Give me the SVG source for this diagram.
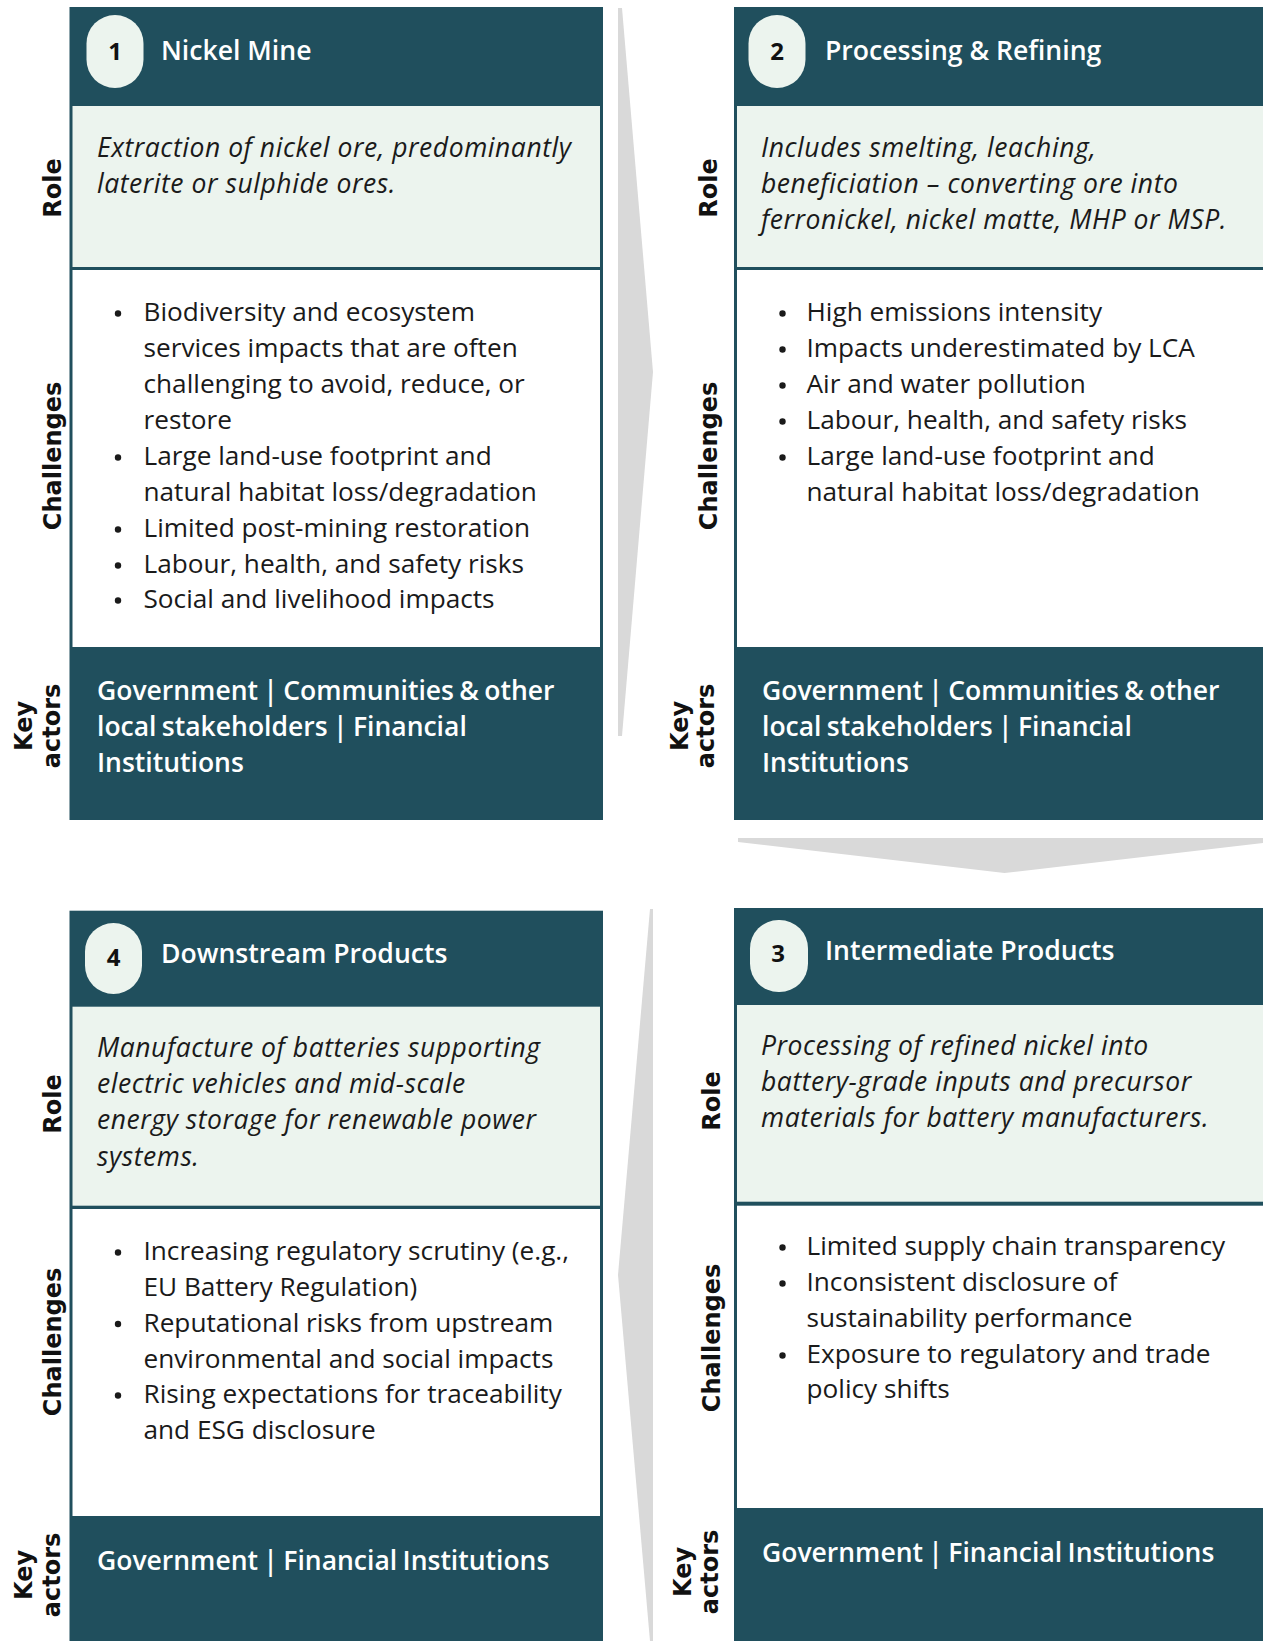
<svg xmlns="http://www.w3.org/2000/svg" width="1263" height="1641" viewBox="0 0 1263 1641">
  <style>
    .card { fill: #204F5D; }
    .role-bg { fill: #ECF4EE; }
    .chal-bg { fill: #FFFFFF; }
    .pill { fill: #ECF4EE; }
    .num { font-family: "Open Sans", "DejaVu Sans", sans-serif; font-weight: 700; font-size: 24px; fill: #111111; text-anchor: middle; }
    .title { font-family: "Open Sans", "DejaVu Sans", sans-serif; font-weight: 600; font-size: 26.6px; fill: #FFFFFF; }
    .role { font-family: "Open Sans", "DejaVu Sans", sans-serif; font-style: italic; font-size: 26.5px; letter-spacing: 0.55px; fill: #1A1A1A; }
    .item { font-family: "Open Sans", "DejaVu Sans", sans-serif; font-size: 26.2px; fill: #1A1A1A; }
    .dot { fill: #1A1A1A; }
    .actors { font-family: "Open Sans", "DejaVu Sans", sans-serif; font-weight: 600; font-size: 26.5px; word-spacing: -1.5px; fill: #FFFFFF; }
    .side { font-family: "DejaVu Sans", "Liberation Sans", sans-serif; font-weight: 700; font-size: 24px; fill: #111111; text-anchor: middle; }
    .flow { fill: #D9D9D9; }
  </style>

  <!-- flow chevrons between the stages -->
  <g id="connectors">
    <polygon class="flow" points="618,8 622,8 653,372 622,736 618,736"/>
    <polygon class="flow" points="738,838 1271,838 1271,842 1004.5,873 738,842"/>
    <polygon class="flow" points="650,909 653,909 653,1641 650,1641 618,1275"/>
  </g>

  <!-- Stage 1 -->
  <g id="node-1">
    <rect class="card" x="69.5" y="7" width="533.5" height="813"/>
    <rect class="role-bg" x="72.5" y="106" width="527.5" height="161"/>
    <rect class="chal-bg" x="72.5" y="270" width="527.5" height="377"/>
    <rect class="pill" x="86.5" y="15" width="57" height="73" rx="28.5"/>
    <text class="num" x="115" y="59.5">1</text>
    <text class="title" x="161" y="59.5">Nickel Mine</text>
    <text class="role"><tspan x="97" y="156.5">Extraction of nickel ore, predominantly</tspan><tspan x="97" y="192.5">laterite or sulphide ores.</tspan></text>
    <circle class="dot" cx="118" cy="313.5" r="3.2"/>
    <circle class="dot" cx="118" cy="457.5" r="3.2"/>
    <circle class="dot" cx="118" cy="529.5" r="3.2"/>
    <circle class="dot" cx="118" cy="565.5" r="3.2"/>
    <circle class="dot" cx="118" cy="600.5" r="3.2"/>
    <text class="item"><tspan x="143.5" y="321">Biodiversity and ecosystem</tspan><tspan x="143.5" y="357">services impacts that are often</tspan><tspan x="143.5" y="393">challenging to avoid, reduce, or</tspan><tspan x="143.5" y="429">restore</tspan><tspan x="143.5" y="465">Large land-use footprint and</tspan><tspan x="143.5" y="501">natural habitat loss/degradation</tspan><tspan x="143.5" y="537">Limited post-mining restoration</tspan><tspan x="143.5" y="573">Labour, health, and safety risks</tspan><tspan x="143.5" y="608">Social and livelihood impacts</tspan></text>
    <text class="actors"><tspan x="97" y="700">Government | Communities &amp; other</tspan><tspan x="97" y="736">local stakeholders | Financial</tspan><tspan x="97" y="772">Institutions</tspan></text>
    <text class="side" transform="translate(60.5,188) rotate(-90)">Role</text>
    <text class="side" transform="translate(60.5,456) rotate(-90)">Challenges</text>
    <text class="side" transform="translate(31.5,726) rotate(-90)">Key</text>
    <text class="side" transform="translate(60,726) rotate(-90)">actors</text>
  </g>

  <!-- Stage 2 -->
  <g id="node-2">
    <rect class="card" x="734" y="7" width="540" height="813"/>
    <rect class="role-bg" x="737" y="106" width="540" height="161"/>
    <rect class="chal-bg" x="737" y="270" width="540" height="377"/>
    <rect class="pill" x="748.5" y="15" width="57" height="73" rx="28.5"/>
    <text class="num" x="777" y="59.5">2</text>
    <text class="title" x="825" y="59.5">Processing &amp; Refining</text>
    <text class="role"><tspan x="761" y="156.5">Includes smelting, leaching,</tspan><tspan x="761" y="192.5">beneficiation – converting ore into</tspan><tspan x="761" y="228.5">ferronickel, nickel matte, MHP or MSP.</tspan></text>
    <circle class="dot" cx="782.5" cy="313.5" r="3.2"/>
    <circle class="dot" cx="782.5" cy="349.5" r="3.2"/>
    <circle class="dot" cx="782.5" cy="385.5" r="3.2"/>
    <circle class="dot" cx="782.5" cy="421.5" r="3.2"/>
    <circle class="dot" cx="782.5" cy="457.5" r="3.2"/>
    <text class="item"><tspan x="806.5" y="321">High emissions intensity</tspan><tspan x="806.5" y="357">Impacts underestimated by LCA</tspan><tspan x="806.5" y="393">Air and water pollution</tspan><tspan x="806.5" y="429">Labour, health, and safety risks</tspan><tspan x="806.5" y="465">Large land-use footprint and</tspan><tspan x="806.5" y="501">natural habitat loss/degradation</tspan></text>
    <text class="actors"><tspan x="762" y="700">Government | Communities &amp; other</tspan><tspan x="762" y="736">local stakeholders | Financial</tspan><tspan x="762" y="772">Institutions</tspan></text>
    <text class="side" transform="translate(717,188) rotate(-90)">Role</text>
    <text class="side" transform="translate(717,456) rotate(-90)">Challenges</text>
    <text class="side" transform="translate(688,726) rotate(-90)">Key</text>
    <text class="side" transform="translate(714,726) rotate(-90)">actors</text>
  </g>

  <!-- Stage 3 -->
  <g id="node-3">
    <rect class="card" x="734" y="908" width="540" height="740"/>
    <rect class="role-bg" x="737" y="1005" width="540" height="196.7"/>
    <rect class="chal-bg" x="737" y="1205.7" width="540" height="302.3"/>
    <rect class="pill" x="750" y="920" width="58" height="72" rx="28.5"/>
    <text class="num" x="778" y="962">3</text>
    <text class="title" x="825" y="960">Intermediate Products</text>
    <text class="role"><tspan x="761" y="1055">Processing of refined nickel into</tspan><tspan x="761" y="1091">battery-grade inputs and precursor</tspan><tspan x="761" y="1127">materials for battery manufacturers.</tspan></text>
    <circle class="dot" cx="782.5" cy="1247.5" r="3.2"/>
    <circle class="dot" cx="782.5" cy="1283.5" r="3.2"/>
    <circle class="dot" cx="782.5" cy="1355.5" r="3.2"/>
    <text class="item"><tspan x="806.5" y="1255">Limited supply chain transparency</tspan><tspan x="806.5" y="1291">Inconsistent disclosure of</tspan><tspan x="806.5" y="1327">sustainability performance</tspan><tspan x="806.5" y="1363">Exposure to regulatory and trade</tspan><tspan x="806.5" y="1398">policy shifts</tspan></text>
    <text class="actors"><tspan x="762" y="1562">Government | Financial Institutions</tspan></text>
    <text class="side" transform="translate(720,1101) rotate(-90)">Role</text>
    <text class="side" transform="translate(720,1338) rotate(-90)">Challenges</text>
    <text class="side" transform="translate(691,1572) rotate(-90)">Key</text>
    <text class="side" transform="translate(718,1572) rotate(-90)">actors</text>
  </g>

  <!-- Stage 4 -->
  <g id="node-4">
    <rect class="card" x="69.5" y="910.7" width="533.5" height="740"/>
    <rect class="role-bg" x="72.5" y="1006.7" width="527.5" height="199"/>
    <rect class="chal-bg" x="72.5" y="1209" width="527.5" height="307"/>
    <rect class="pill" x="85" y="923" width="57" height="71" rx="28.5"/>
    <text class="num" x="113.5" y="966">4</text>
    <text class="title" x="161" y="963">Downstream Products</text>
    <text class="role"><tspan x="97" y="1056.5">Manufacture of batteries supporting</tspan><tspan x="97" y="1092.5">electric vehicles and mid-scale</tspan><tspan x="97" y="1129">energy storage for renewable power</tspan><tspan x="97" y="1165.5">systems.</tspan></text>
    <circle class="dot" cx="118" cy="1252.5" r="3.2"/>
    <circle class="dot" cx="118" cy="1324" r="3.2"/>
    <circle class="dot" cx="118" cy="1395.5" r="3.2"/>
    <text class="item"><tspan x="143.5" y="1260">Increasing regulatory scrutiny (e.g.,</tspan><tspan x="143.5" y="1296">EU Battery Regulation)</tspan><tspan x="143.5" y="1331.5">Reputational risks from upstream</tspan><tspan x="143.5" y="1367.5">environmental and social impacts</tspan><tspan x="143.5" y="1403">Rising expectations for traceability</tspan><tspan x="143.5" y="1439">and ESG disclosure</tspan></text>
    <text class="actors"><tspan x="97" y="1570">Government | Financial Institutions</tspan></text>
    <text class="side" transform="translate(60.5,1104) rotate(-90)">Role</text>
    <text class="side" transform="translate(60.5,1342) rotate(-90)">Challenges</text>
    <text class="side" transform="translate(31.5,1575) rotate(-90)">Key</text>
    <text class="side" transform="translate(60,1575) rotate(-90)">actors</text>
  </g>
</svg>
